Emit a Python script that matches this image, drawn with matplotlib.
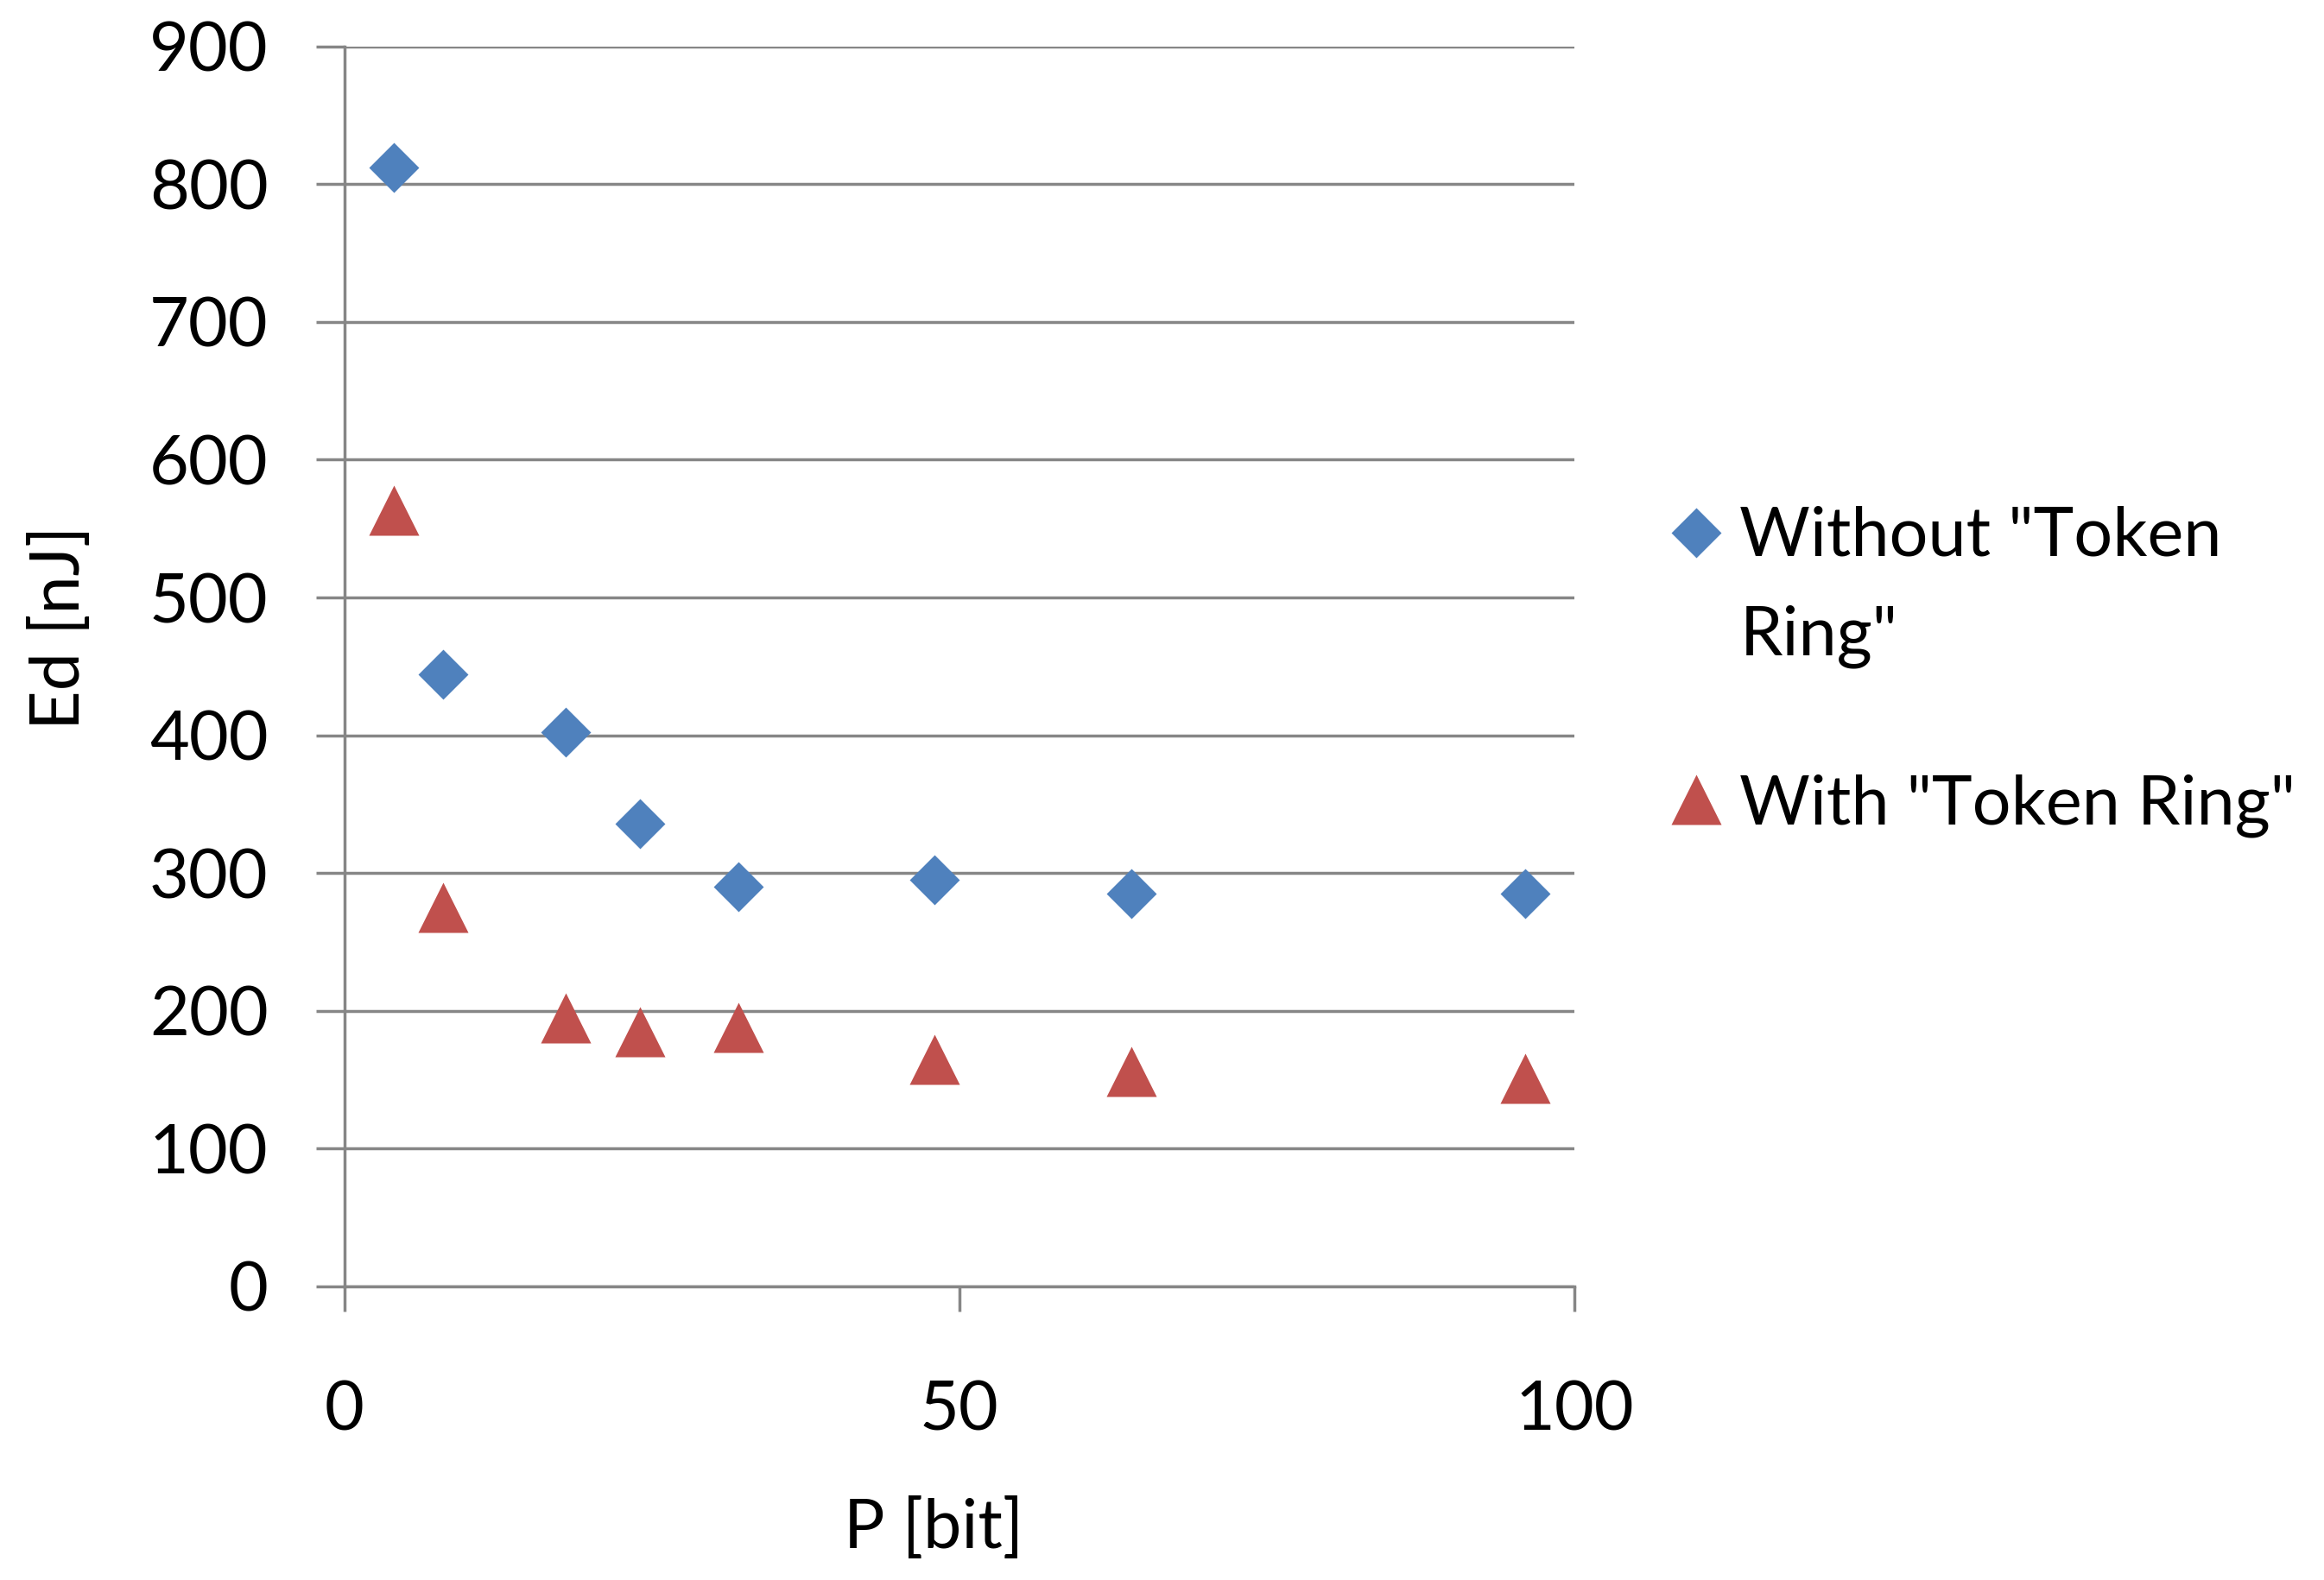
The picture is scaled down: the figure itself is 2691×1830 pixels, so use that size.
import matplotlib
matplotlib.use("Agg")
import matplotlib.pyplot as plt
from matplotlib.legend_handler import HandlerPathCollection

# ---- data ----
p_bits = [4, 8, 18, 24, 32, 48, 64, 96]
ed_without = [812, 444, 402, 336, 290, 295, 285, 285]
ed_with = [563, 275, 195, 185, 188, 165, 156, 151]
series_labels = ['Without "Token\nRing"', 'With "Token Ring"']
y_ticks = [0, 100, 200, 300, 400, 500, 600, 700, 800, 900]
x_ticks = [0, 50, 100]
x_label = "P [bit]"
y_label = "Ed [nJ]"

plt.rcParams['font.family'] = ['Lato', 'DejaVu Sans']
FS = 57
GRID = '#868686'

fig = plt.figure(figsize=(26.91, 18.30), dpi=100)
ax = fig.add_axes([0.1482, 0.1858, 0.5292, 0.7849])

sc1 = ax.scatter(p_bits, ed_without, marker='D', s=870, color='#4F81BD',
                 linewidths=0, label=series_labels[0], zorder=3)
sc2 = ax.scatter(p_bits, ed_with, marker='^', s=1747, color='#C0504D',
                 linewidths=0, label=series_labels[1], zorder=3)

ax.set_xlim(0, 100)
ax.set_ylim(0, 900)
ax.set_xticks(x_ticks)
ax.set_yticks(y_ticks)
ax.yaxis.grid(True, color=GRID, linewidth=2.5)
ax.set_axisbelow(True)
for s in ['top', 'right']:
    ax.spines[s].set_visible(False)
for s in ['left', 'bottom']:
    ax.spines[s].set_color(GRID)
    ax.spines[s].set_linewidth(2.5)
ax.tick_params(axis='y', direction='out', length=23.5, width=2.5, color=GRID,
               labelsize=FS, pad=40)
ax.tick_params(axis='x', direction='out', length=21, width=2.5, color=GRID,
               labelsize=FS, pad=57)

ax.set_xlabel(x_label, fontsize=FS)
ax.set_ylabel(y_label, fontsize=FS)
ax.xaxis.set_label_coords(0.479, -0.195)
ax.yaxis.set_label_coords(-0.231, 0.531)
ax.xaxis.label.set_va('center')
ax.yaxis.label.set_va('center')

leg = ax.legend(handles=[sc1, sc2], labels=series_labels,
                handler_map={sc1: HandlerPathCollection(yoffsets=[1.65]),
                             sc2: HandlerPathCollection(yoffsets=[0.52])},
                loc='upper left', bbox_to_anchor=(0.715, 0.68),
                bbox_transform=fig.transFigure, frameon=False,
                fontsize=FS, handlelength=1.0, handletextpad=0.14,
                labelspacing=1.55, borderpad=0, borderaxespad=0,
                scatterpoints=1)
leg.get_texts()[0].set_linespacing(1.74)

fig.savefig('out.png', dpi=100, facecolor='white')
